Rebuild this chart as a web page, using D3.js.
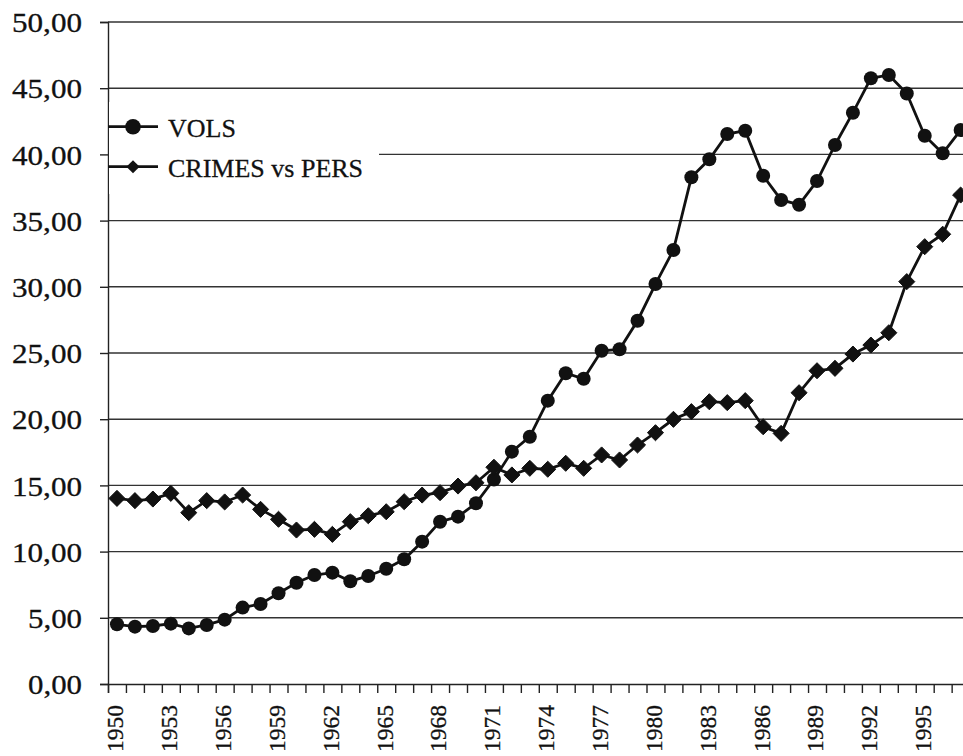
<!DOCTYPE html>
<html>
<head>
<meta charset="utf-8">
<script src="https://cdn.jsdelivr.net/npm/d3@7"></script>
<style>
  html, body { margin: 0; padding: 0; background: #fff; overflow: hidden; }
  svg { display: block; }
  text { font-family: "Liberation Serif", "Times New Roman", serif; fill: #111; }
</style>
</head>
<body>
<svg id="chart" width="963" height="756"></svg>
<script>
const years = d3.range(1950, 1998);
const vols = [4.51, 4.33, 4.38, 4.56, 4.20, 4.46, 4.86, 5.77, 6.04, 6.85,
              7.65, 8.23, 8.41, 7.76, 8.16, 8.71, 9.42, 10.75, 12.26, 12.64,
              13.65, 15.45, 17.55, 18.68, 21.40, 23.47, 23.05, 25.17, 25.28, 27.44,
              30.21, 32.78, 38.27, 39.63, 41.54, 41.79, 38.39, 36.56, 36.20, 37.99,
              40.71, 43.15, 45.75, 46.00, 44.60, 41.41, 40.08, 41.84];
const crimes = [14.02, 13.85, 13.97, 14.40, 12.94, 13.85, 13.75, 14.27, 13.19, 12.44,
                11.63, 11.68, 11.30, 12.26, 12.71, 13.01, 13.77, 14.27, 14.45, 14.95,
                15.20, 16.37, 15.79, 16.29, 16.22, 16.67, 16.29, 17.30, 16.92, 18.05,
                18.98, 19.99, 20.57, 21.32, 21.25, 21.40, 19.43, 18.93, 22.00, 23.66,
                23.84, 24.92, 25.60, 26.53, 30.39, 33.03, 33.97, 36.93];
const yTicks = d3.range(0, 51, 5);
const yearLabels = years.filter(y => (y - 1950) % 3 === 0);
const seriesNames = ["VOLS", "CRIMES vs PERS"];

(function () {
const svg = d3.select("#chart");
const mLeft = 108, mTop = 22, mBottom = 684;
const step = 17.95;
const mRight = mLeft + step * years.length;

const x = d3.scaleBand().domain(years).range([mLeft, mRight]).padding(0);
const xEdge = d3.scaleLinear().domain([1950, 1950 + years.length]).range([mLeft, mRight]);
const y = d3.scaleLinear().domain([0, 50]).range([mBottom, mTop]);
const cx = d => x(d) + x.bandwidth() / 2;

const comma = v => d3.format(".2f")(v).replace(".", ",");

// gridlines
svg.append("g")
  .selectAll("line")
  .data(yTicks.filter(t => t > 0))
  .join("line")
  .attr("x1", mLeft).attr("x2", 963)
  .attr("y1", d => y(d)).attr("y2", d => y(d))
  .attr("stroke", "#333").attr("stroke-width", 1.4);

// y axis
const yAxis = svg.append("g")
  .attr("transform", `translate(${mLeft},0)`)
  .call(d3.axisLeft(y).tickValues(yTicks).tickSize(8).tickPadding(18).tickFormat(comma));
yAxis.select(".domain").attr("stroke", "#222").attr("stroke-width", 1.4);
yAxis.selectAll(".tick line").attr("stroke", "#222").attr("stroke-width", 1.4);
yAxis.selectAll("text")
  .attr("font-size", 27)
  .attr("textLength", d => comma(d).length === 5 ? 70 : 54)
  .attr("lengthAdjust", "spacingAndGlyphs")
  .attr("dy", "0.36em")
  .attr("fill", "#111")
  .attr("stroke", "#111").attr("stroke-width", 0.3);

// x axis ticks at category boundaries
const xAxis = svg.append("g")
  .attr("transform", `translate(0,${mBottom})`)
  .call(d3.axisBottom(xEdge).tickValues(d3.range(1950, 1950 + years.length + 1)).tickSize(9).tickFormat(""));
xAxis.select(".domain").attr("stroke", "#222").attr("stroke-width", 1.4);
xAxis.selectAll(".tick line").attr("stroke", "#222").attr("stroke-width", 1.4);

// x labels
const xLab = svg.append("g")
  .attr("transform", `translate(0,${mBottom})`)
  .call(d3.axisBottom(x).tickValues(yearLabels).tickSize(0).tickFormat(d3.format("d")));
xLab.select(".domain").remove();
xLab.selectAll("text")
  .attr("font-size", 24)
  .attr("textLength", 47)
  .attr("lengthAdjust", "spacingAndGlyphs")
  .attr("text-anchor", "end")
  .attr("transform", "rotate(-90)")
  .attr("x", -21)
  .attr("y", -2)
  .attr("dy", "0.35em")
  .attr("fill", "#111")
  .attr("stroke", "#111").attr("stroke-width", 0.3);

// lines
const line = d3.line().x((d, i) => cx(years[i])).y(d => y(d));
[vols, crimes].forEach(s => {
  svg.append("path").datum(s)
    .attr("d", line)
    .attr("fill", "none")
    .attr("stroke", "#111")
    .attr("stroke-width", 2.8);
});

// markers
svg.append("g").selectAll("circle")
  .data(vols).join("circle")
  .attr("cx", (d, i) => cx(years[i]))
  .attr("cy", d => y(d))
  .attr("r", 7)
  .attr("fill", "#111");

const diamond = d3.symbol().type(d3.symbolDiamond2).size(165);
svg.append("g").selectAll("path")
  .data(crimes).join("path")
  .attr("transform", (d, i) => `translate(${cx(years[i])},${y(d)})`)
  .attr("d", diamond)
  .attr("fill", "#111")
  .attr("stroke", "#111").attr("stroke-width", 1);

// legend
const leg = svg.append("g");
leg.append("rect")
  .attr("x", mLeft + 1).attr("y", 102).attr("width", 270).attr("height", 92)
  .attr("fill", "#fff");
const legY = [126.7, 166.7];
seriesNames.forEach((name, i) => {
  leg.append("line")
    .attr("x1", mLeft).attr("x2", 158)
    .attr("y1", legY[i]).attr("y2", legY[i])
    .attr("stroke", "#111").attr("stroke-width", 2.8);
  if (i === 0) {
    leg.append("circle").attr("cx", 133).attr("cy", legY[i]).attr("r", 7.8).attr("fill", "#111");
  } else {
    leg.append("path")
      .attr("transform", `translate(133,${legY[i]})`)
      .attr("d", d3.symbol().type(d3.symbolDiamond2).size(110))
      .attr("fill", "#111");
  }
  leg.append("text")
    .attr("x", 168).attr("y", legY[i] + 10)
    .attr("font-size", 26)
    .attr("stroke", "#111").attr("stroke-width", 0.3)
    .text(name);
});
})();
</script>
</body>
</html>
